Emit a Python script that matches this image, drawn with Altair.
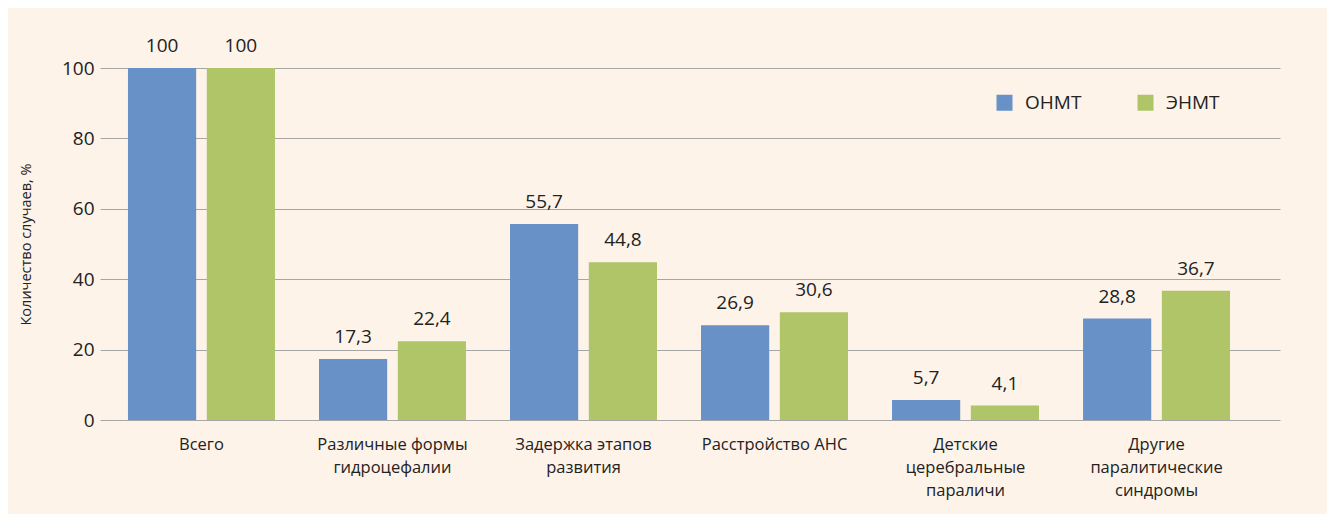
import altair as alt
import pandas as pd

categories = [
    "Всего",
    "Различные формы|гидроцефалии",
    "Задержка этапов|развития",
    "Расстройство АНС",
    "Детские|церебральные|параличи",
    "Другие|паралитические|синдромы",
]
series = ["ОНМТ", "ЭНМТ"]
onmt = [100, 17.3, 55.7, 26.9, 5.7, 28.8]
enmt = [100, 22.4, 44.8, 30.6, 4.1, 36.7]
colors = ["#6891C8", "#B0C468"]

def fmt(v):
    return str(int(v)) if float(v).is_integer() else f"{v:.1f}".replace(".", ",")

rows = []
for c, a, b in zip(categories, onmt, enmt):
    rows.append({"cat": c, "series": series[0], "value": a, "label": fmt(a)})
    rows.append({"cat": c, "series": series[1], "value": b, "label": fmt(b)})
df = pd.DataFrame(rows)

FONT = "Open Sans"

x = alt.X(
    "cat:N",
    sort=categories,
    scale=alt.Scale(paddingInner=0.2304, paddingOuter=0.204, align=0.359),
    axis=alt.Axis(
        title=None,
        labelExpr="split(datum.label, '|')",
        labelAngle=0,
        labelFontSize=16.5,
        labelColor="#222222",
        labelFont=FONT,
        labelLineHeight=23,
        labelPadding=16,
        ticks=False,
        domain=False,
        labelLimit=300,
    ),
)
xoff = alt.XOffset("series:N", sort=series, scale=alt.Scale(paddingInner=0.135, paddingOuter=0))

bars = alt.Chart(df).mark_bar().encode(
    x=x,
    xOffset=xoff,
    y=alt.Y(
        "value:Q",
        scale=alt.Scale(domain=[0, 100], nice=False),
        axis=alt.Axis(
            title="Количество случаев, %",
            titleFontSize=14.5,
            titleFont=FONT,
            titleFontWeight="normal",
            titleColor="#222222",
            titlePadding=28,
            values=[0, 20, 40, 60, 80, 100],
            labelFontSize=19,
            labelFont=FONT,
            labelColor="#222222",
            labelPadding=6,
            ticks=False,
            domain=False,
            grid=True,
            gridColor="#A6A6A6",
            gridWidth=1,
        ),
    ),
    color=alt.Color(
        "series:N",
        sort=series,
        scale=alt.Scale(domain=series, range=colors),
        legend=alt.Legend(
            title=None,
            orient="none",
            direction="horizontal",
            legendX=895,
            legendY=25,
            symbolType="square",
            symbolSize=256,
            symbolStrokeWidth=0,
            labelFontSize=19,
            labelFont=FONT,
            labelColor="#222222",
            labelOffset=11,
            columnPadding=54,
            padding=0,
        ),
    ),
)

text = alt.Chart(df).mark_text(
    baseline="alphabetic", dy=-16, fontSize=19, font=FONT, color="#222222"
).encode(
    x=x,
    xOffset=xoff,
    y="value:Q",
    text="label:N",
)

chart = (
    alt.layer(bars, text)
    .properties(
        width=1180,
        height=352,
        background="#FDF3E9",
        padding={"left": 92, "top": 60, "right": 47, "bottom": 94},
        autosize=alt.AutoSizeParams(type="none"),
    )
    .configure_view(stroke=None)
)

chart.save("out.html", embed_options={"renderer": "svg", "actions": False})
